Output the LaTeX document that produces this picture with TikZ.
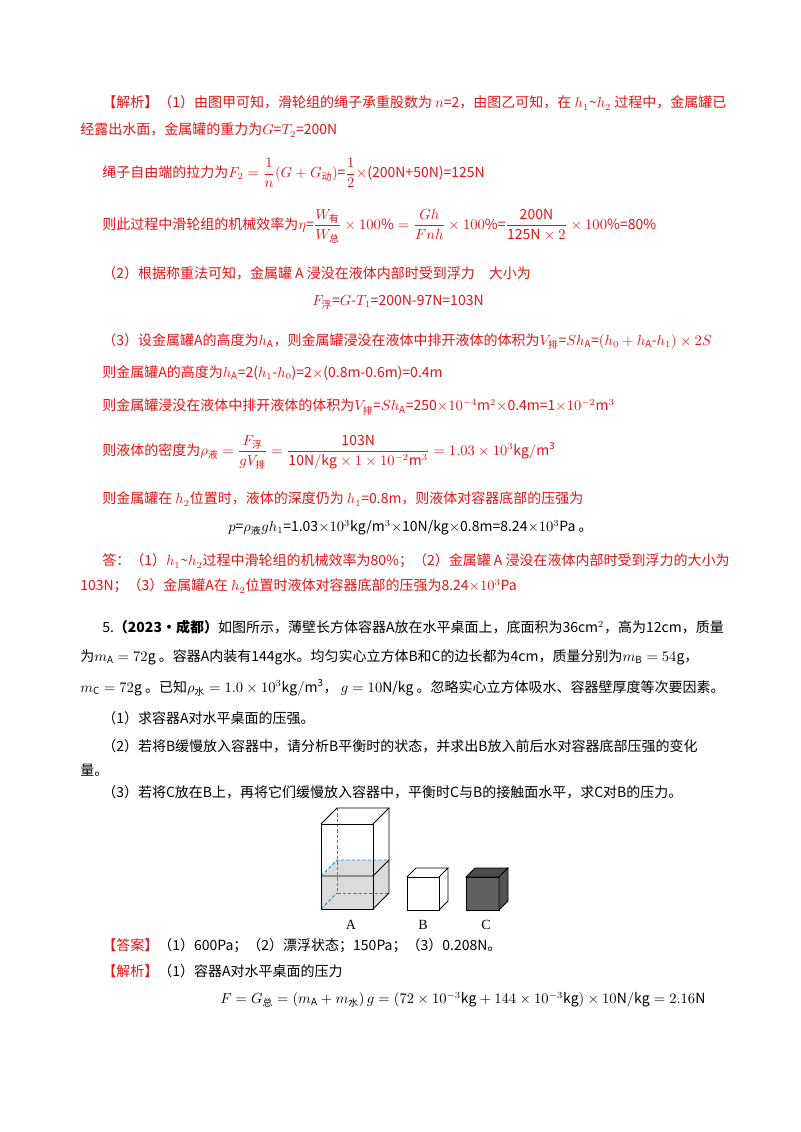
\documentclass[tikz,border=0pt]{standalone}
\usepackage{amsmath}
\usepackage{fontspec}
\setmainfont{Noto Sans CJK SC}
\newfontfamily\tms{Liberation Serif}
\definecolor{rd}{RGB}{230,20,20}
\newcommand{\cz}[1]{\text{#1}}
\begin{document}
\begin{tikzpicture}[x=0.75pt,y=-0.75pt,
 t/.style={anchor=west,inner sep=0pt,font=\fontsize{10.5}{12}\selectfont},
 r/.style={t,text=rd},
 eg/.style={draw=black,line width=0.6pt},
 dl/.style={draw=cyan!80!blue,dash pattern=on 2.5pt off 1.5pt,line width=0.6pt}]
\useasboundingbox (0,0) rectangle (800,1132);
\fill[white] (0,0) rectangle (800,1132);
\node[r] (l1) at (102,103) {【解析】（1）由图甲可知，滑轮组的绳子承重股数为 $n$=2，由图乙可知，在 $h_1$\textasciitilde$h_2$ 过程中，金属罐已};
\node[r] (l2) at (80,130) {经露出水面，金属罐的重力为$G$=$T_2$=200N};
\node[r] (l3) at (102,173) {绳子自由端的拉力为$F_2=\dfrac{1}{n}(G+G_{\cz{动}})$=$\dfrac12\times$(200N+50N)=125N};
\node[r] (l4) at (102,226) {则此过程中滑轮组的机械效率为$\eta$=$\dfrac{W_{\cz{有}}}{W_{\cz{总}}}\times100\%=\dfrac{Gh}{Fnh}\times100\%$=$\dfrac{\mathrm{200N}}{\mathrm{125N}\times2}\times100\%$=80\%};
\node[r] (l5) at (102,273) {（2）根据称重法可知，金属罐 A 浸没在液体内部时受到浮力\quad 大小为};
\node[r] (l6) at (312,302) {$F_{\cz{浮}}$=$G$-$T_1$=200N-97N=103N};
\node[r] (l7) at (102,341) {（3）设金属罐A的高度为$h_{\mathrm A}$，则金属罐浸没在液体中排开液体的体积为$V_{\cz{排}}$=$Sh_{\mathrm A}$=$(h_0+h_{\mathrm A}\text{-}h_1)\times2S$};
\node[r] (l8) at (102,373) {则金属罐A的高度为$h_{\mathrm A}$=2($h_1$-$h_0$)=2$\times$(0.8m-0.6m)=0.4m};
\node[r] (l9) at (102,407) {则金属罐浸没在液体中排开液体的体积为$V_{\cz{排}}$=$Sh_{\mathrm A}$=250$\times10^{-4}$m$^2\times$0.4m=1$\times10^{-2}$m$^3$};
\node[r] (l10) at (102,452) {则液体的密度为$\rho_{\cz{液}}=\dfrac{F_{\cz{浮}}}{gV_{\cz{排}}}=\dfrac{\mathrm{103N}}{\mathrm{10N/kg}\times1\times10^{-2}\mathrm{m}^3}=1.03\times10^3\mathrm{kg/m^3}$};
\node[r] (l11) at (102,499) {则金属罐在 $h_2$位置时，液体的深度仍为 $h_1$=0.8m，则液体对容器底部的压强为};
\node[t] (l12) at (228,528) {$p$=$\rho_{\cz{液}}gh_1$=1.03$\times10^3$kg/m$^3\times$10N/kg$\times$0.8m=8.24$\times10^3$Pa 。};
\node[r] (l13) at (102,561) {答：（1）$h_1$\textasciitilde$h_2$过程中滑轮组的机械效率为80\%；（2）金属罐 A 浸没在液体内部时受到浮力的大小为};
\node[r] (l14) at (80,586) {103N；（3）金属罐A在 $h_2$位置时液体对容器底部的压强为8.24$\times10^3$Pa};
\node[t] (l15) at (102,627) {5.\textbf{（2023·成都）}如图所示，薄壁长方体容器A放在水平桌面上，底面积为36cm$^2$，高为12cm，质量};
\node[t] (l16) at (80,657) {为$m_{\mathrm A}=72$g 。容器A内装有144g水。均匀实心立方体B和C的边长都为4cm，质量分别为$m_{\mathrm B}=54$g，};
\node[t] (l17) at (80,688) {$m_{\mathrm C}=72$g 。已知$\rho_{\cz{水}}=1.0\times10^3\mathrm{kg/m^3}$， $g=10$N/kg 。忽略实心立方体吸水、容器壁厚度等次要因素。};
\node[t] (l18) at (102,718) {（1）求容器A对水平桌面的压强。};
\node[t] (l19) at (102,746) {（2）若将B缓慢放入容器中，请分析B平衡时的状态，并求出B放入前后水对容器底部压强的变化};
\node[t] (l20) at (80,770) {量。};
\node[t] (l21) at (102,792) {（3）若将C放在B上，再将它们缓慢放入容器中，平衡时C与B的接触面水平，求C对B的压力。};
\fill[gray!28] (321,876) -- (337,860) -- (389,860) -- (389,893) -- (373,909) -- (321,909) -- cycle;
\draw[dl] (337,808) -- (337,893) -- (389,893);
\draw[dl] (321,909) -- (337,893);
\draw[dl] (321,876) -- (337,860) -- (389,860);
\draw[eg] (321,824) rectangle (373,909);
\draw[eg] (321,824) -- (337,808) -- (389,808) -- (373,824);
\draw[eg] (389,808) -- (389,893) -- (373,909);
\draw[eg] (321,876) -- (373,876) -- (389,860);
\draw[eg,fill=white] (407,877) rectangle (439,910);
\draw[eg] (407,877) -- (416,868) -- (448,868) -- (439,877) (448,868) -- (448,901) -- (439,910);
\draw[eg,fill=gray!75!black] (466,877) rectangle (499,910);
\draw[eg,fill=gray!60!black] (466,877) -- (475,868) -- (508,868) -- (499,877) -- cycle;
\draw[eg,fill=gray!65!black] (499,877) -- (508,868) -- (508,901) -- (499,910) -- cycle;
\node[t,anchor=center,font=\tms\fontsize{10.5}{12}\selectfont] (la) at (351,925) {A};
\node[t,anchor=center,font=\tms\fontsize{10.5}{12}\selectfont] (lb) at (423,925) {B};
\node[t,anchor=center,font=\tms\fontsize{10.5}{12}\selectfont] (lc) at (486,925) {C};
\node[t] (l22) at (102,946) {\textcolor{rd}{【答案】}（1）600Pa；（2）漂浮状态；150Pa；（3）0.208N。};
\node[t] (l23) at (102,971) {\textcolor{rd}{【解析】}（1）容器A对水平桌面的压力};
\node[t] (l24) at (220,1000) {$F=G_{\cz{总}}=\left(m_{\mathrm A}+m_{\cz{水}}\right)g=\left(72\times10^{-3}\mathrm{kg}+144\times10^{-3}\mathrm{kg}\right)\times10\mathrm{N/kg}=2.16\mathrm{N}$};
\end{tikzpicture}
\end{document}
